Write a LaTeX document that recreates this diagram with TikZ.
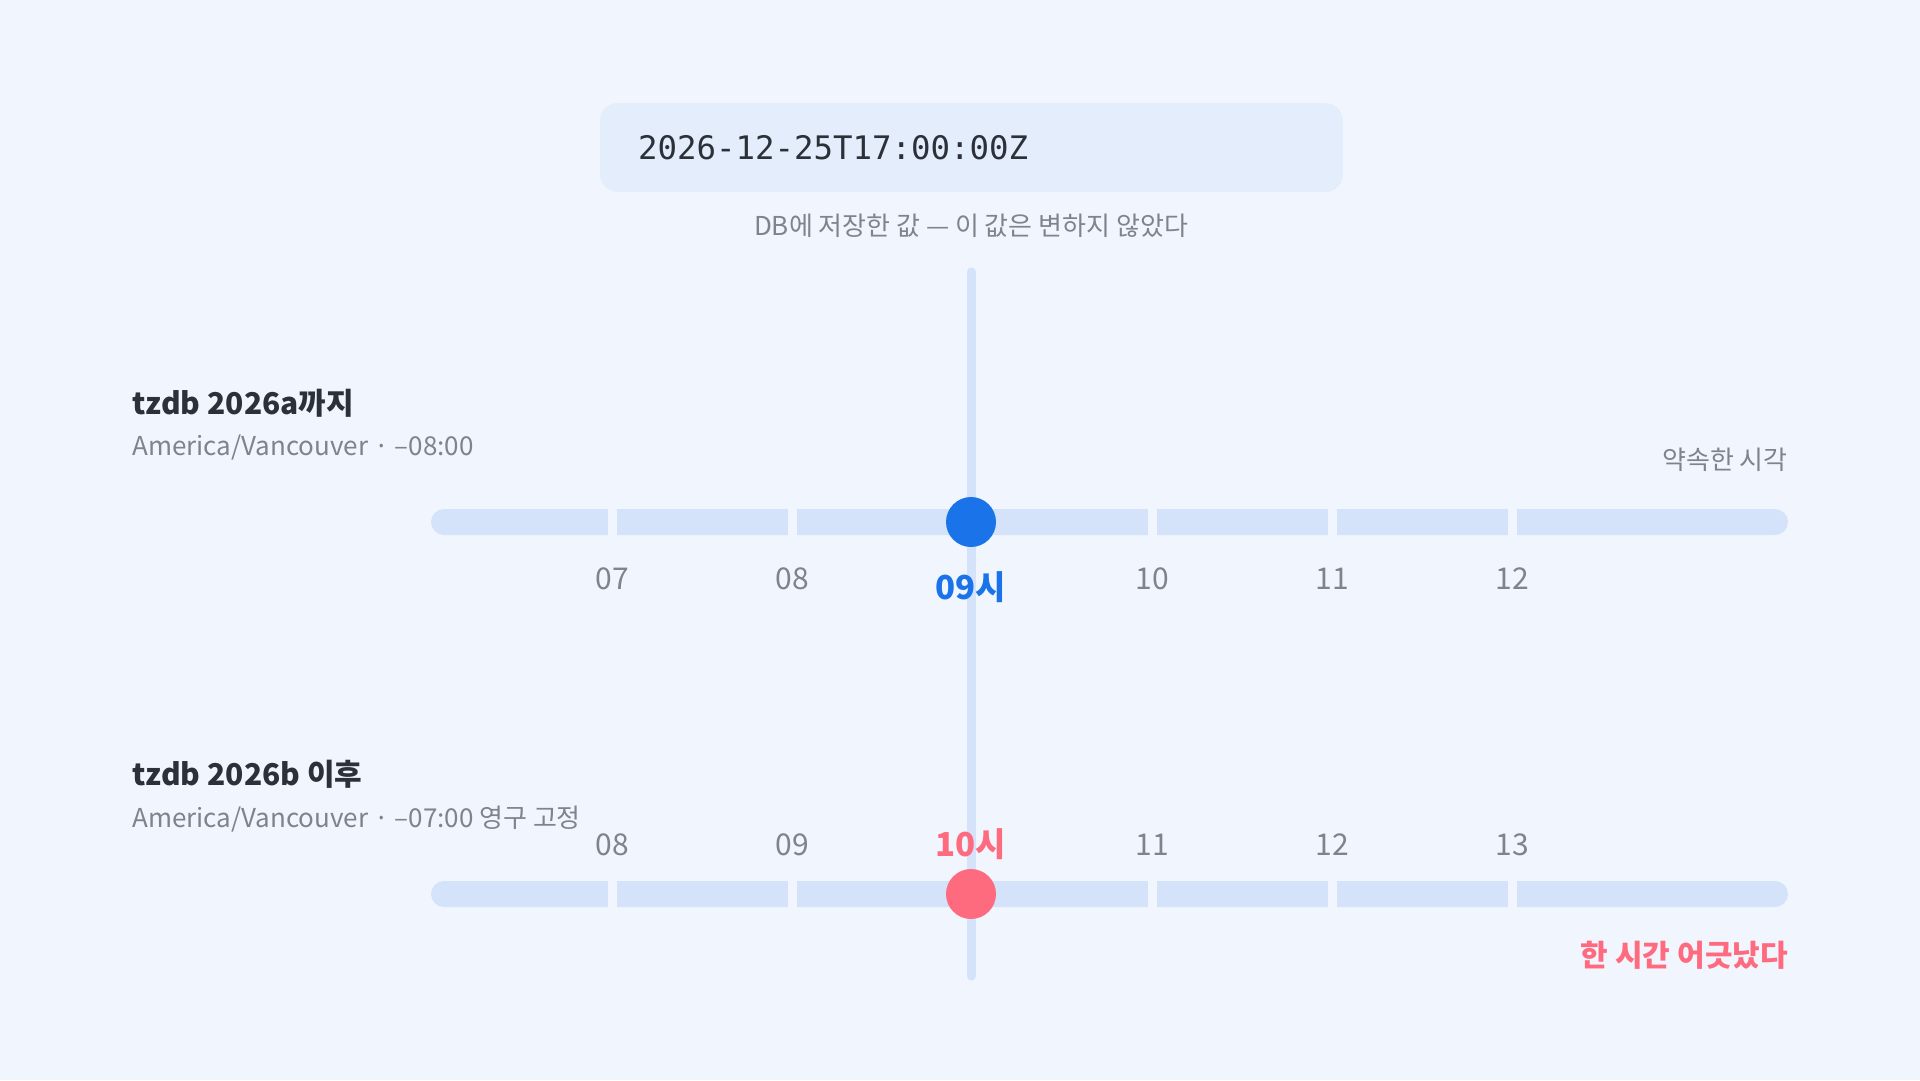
\documentclass[tikz,border=0pt]{standalone}
\usepackage{fontspec}
\setmainfont{Noto Sans CJK KR}
\setmonofont{DejaVu Sans Mono}
\usetikzlibrary{positioning}
\definecolor{bg}{HTML}{F1F6FE}
\definecolor{boxfill}{HTML}{E3EDFC}
\definecolor{trackfill}{HTML}{D4E3F9}
\definecolor{ink}{HTML}{2C3038}
\definecolor{muted}{HTML}{7E848D}
\definecolor{nowblue}{HTML}{1A73E8}
\definecolor{shiftred}{HTML}{FF6B7E}

\begin{document}
\begin{tikzpicture}
  [x=1pt,y=-1pt,
   stamp/.style={rectangle,rounded corners=18,fill=boxfill,minimum width=743,minimum height=89,
     text width=667,align=left,inner xsep=38,inner ysep=0,text=ink,font=\ttfamily\fontsize{32.4}{38}\selectfont},
   note/.style={inner sep=0,text=muted,font=\fontsize{26}{30}\selectfont},
   title/.style={anchor=west,inner sep=0,text=ink,font=\bfseries\fontsize{30}{36}\selectfont},
   zone/.style={anchor=west,inner sep=0,text=muted,font=\fontsize{26}{30}\selectfont},
   tick/.style={inner sep=0,text=muted,font=\fontsize{30}{34}\selectfont},
   hour/.style={inner sep=0,font=\bfseries\fontsize{33}{38}\selectfont},
   dot/.style={circle,inner sep=0,minimum size=50},
   track/.style={fill=trackfill,rounded corners=13},
   axis/.style={draw=trackfill,line width=9,line cap=round}]
  \useasboundingbox (0,0) rectangle (1920,1080);
  \fill[bg] (0,0) rectangle (1920,1080);
  \node[stamp] (stored) at (971.5,147.5) {2026-12-25T17:00:00Z};
  \node[note] (stored_note) at (971,226) {DB에 저장한 값 — 이 값은 변하지 않았다};
  % the instant itself
  \coordinate (axis_top) at (971,272);
  \coordinate (axis_bot) at (971,976);
  \draw[axis] (axis_top) -- (axis_bot);
  % before 2026b
  \node[title] (old_title) at (132,403) {tzdb 2026a까지};
  \node[zone] (old_zone) at (132,447) {America/Vancouver · –08:00};
  \node[note,anchor=east] (promised) at (1788,460) {약속한 시각};
  \fill[track] (431,509) rectangle (1788,535);
  \foreach \x in {612,792,1152,1332,1512}
    \fill[bg] (\x-4.5,505) rectangle (\x+4.5,539);
  \node[dot,fill=nowblue] (old_dot) at (971,522) {};
  \foreach \t/\x in {07/612,08/792,10/1152,11/1332,12/1512}
    \node[tick] (old_\t) at (\x,579) {\t};
  \node[hour,text=nowblue] (old_hour) at (971,587) {09시};
  % after 2026b
  \node[title] (new_title) at (132,774) {tzdb 2026b 이후};
  \node[zone] (new_zone) at (132,819) {America/Vancouver · –07:00 영구 고정};
  \foreach \t/\x in {08/612,09/792,11/1152,12/1332,13/1512}
    \node[tick] (new_\t) at (\x,845) {\t};
  \node[hour,text=shiftred] (new_hour) at (971,844) {10시};
  \fill[track] (431,881) rectangle (1788,907);
  \foreach \x in {612,792,1152,1332,1512}
    \fill[bg] (\x-4.5,877) rectangle (\x+4.5,911);
  \node[dot,fill=shiftred] (new_dot) at (971,894) {};
  \node[hour,anchor=east,text=shiftred,font=\bfseries\fontsize{30}{34}\selectfont] (drift) at (1788,955) {한 시간 어긋났다};
\end{tikzpicture}
\end{document}
